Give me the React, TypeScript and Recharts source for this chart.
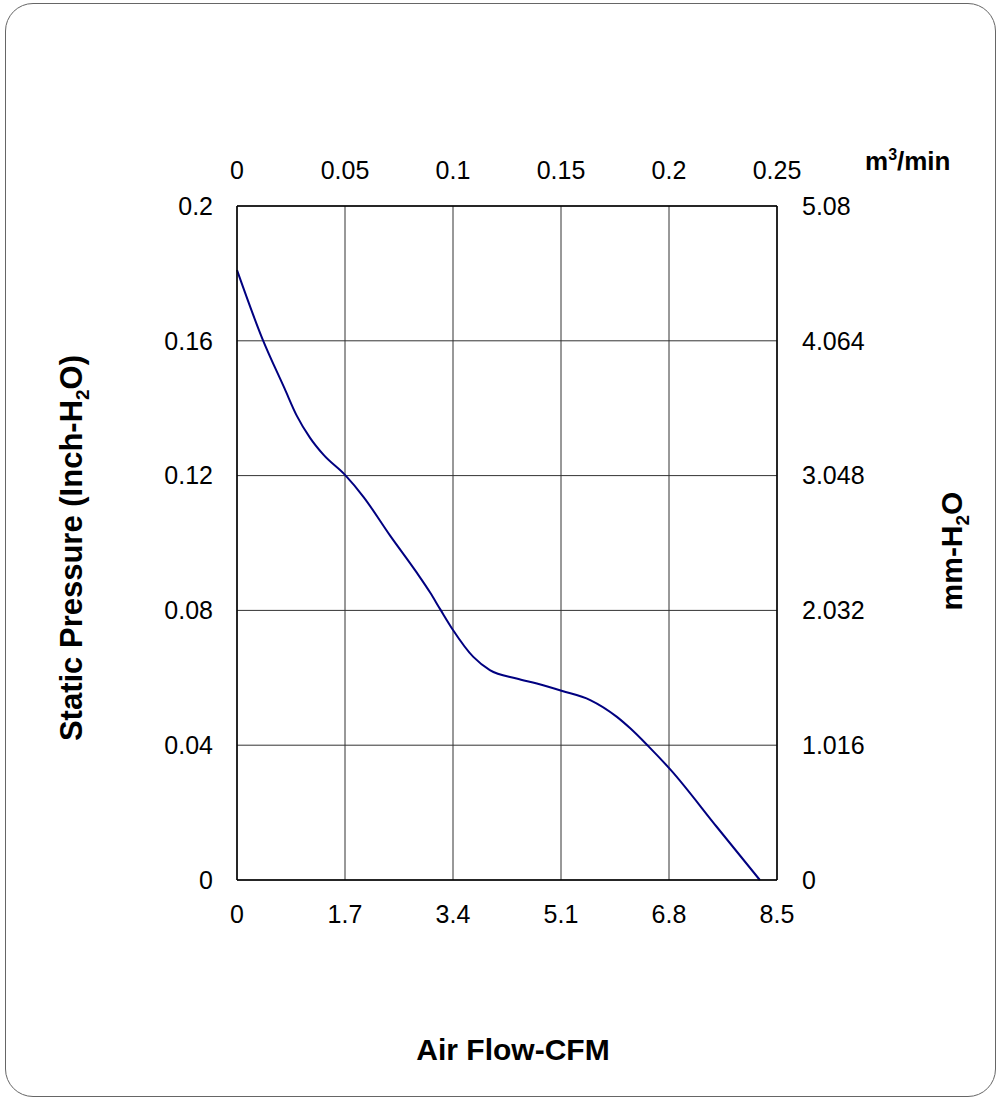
import React from 'react';
import { LineChart, Line, XAxis, YAxis, CartesianGrid } from 'recharts';

// airflow (CFM) vs static pressure (inch-H2O)
const airFlowCfm = [0, 0.4, 0.75, 0.94, 1.15, 1.36, 1.7, 1.99, 2.41, 2.83, 3.04, 3.2, 3.4, 3.72, 3.98, 4.4, 4.72, 5.12, 5.56, 5.98, 6.19, 6.47, 6.83, 7.55, 8.23];
const pressureInch = [0.181, 0.1606, 0.1458, 0.1378, 0.1312, 0.1262, 0.1202, 0.1137, 0.1022, 0.0912, 0.0853, 0.0803, 0.0742, 0.0662, 0.0623, 0.0598, 0.0583, 0.0561, 0.0534, 0.0484, 0.045, 0.0398, 0.0326, 0.0158, 0];

const cfmTicks = [0, 1.7, 3.4, 5.1, 6.8, 8.5];
const m3TickLabels = ['0', '0.05', '0.1', '0.15', '0.2', '0.25'];
const inchTicks = [0, 0.04, 0.08, 0.12, 0.16, 0.2];
const mmTicks = [0, 1.016, 2.032, 3.048, 4.064, 5.08];

const data = airFlowCfm.map((cfm, i) => ({ cfm, p: pressureInch[i] }));

const FONT = '"Liberation Sans", Arial, sans-serif';
const tickStyle = { fill: '#000', fontSize: 25, fontFamily: FONT };
const axisLine = { stroke: '#000', strokeWidth: 1.5 };

export default function App() {
    return (
        <div style={{ position: 'absolute', left: 0, top: 0, width: 1000, height: 1099, background: '#fff' }}>
            <div
                style={{
                    position: 'absolute',
                    left: 5,
                    top: 3,
                    width: 989,
                    height: 1092,
                    border: '1px solid #666',
                    borderRadius: 28,
                }}
            />
            <LineChart
                width={1000}
                height={1099}
                data={data}
                margin={{ top: 166, right: 163, bottom: 179, left: 177 }}
            >
                <CartesianGrid xAxisId="cfm" yAxisId="inch" stroke="#333" strokeWidth={1} />
                <XAxis
                    xAxisId="cfm"
                    dataKey="cfm"
                    type="number"
                    orientation="bottom"
                    domain={[0, 8.5]}
                    ticks={cfmTicks}
                    height={40}
                    tickSize={0}
                    tickMargin={25}
                    tick={tickStyle}
                    axisLine={axisLine}
                />
                <XAxis
                    xAxisId="m3"
                    dataKey="cfm"
                    type="number"
                    orientation="top"
                    domain={[0, 8.5]}
                    ticks={cfmTicks}
                    tickFormatter={(_v: number, i: number) => m3TickLabels[i]}
                    height={40}
                    tickSize={0}
                    tickMargin={27}
                    tick={tickStyle}
                    axisLine={axisLine}
                />
                <YAxis
                    yAxisId="inch"
                    type="number"
                    orientation="left"
                    domain={[0, 0.2]}
                    ticks={inchTicks}
                    width={60}
                    tickSize={0}
                    tickMargin={24}
                    tick={tickStyle}
                    axisLine={axisLine}
                />
                <YAxis
                    yAxisId="mm"
                    type="number"
                    orientation="right"
                    domain={[0, 5.08]}
                    ticks={mmTicks}
                    width={60}
                    tickSize={0}
                    tickMargin={25}
                    tick={tickStyle}
                    axisLine={axisLine}
                />
                {/* invisible series so the top and right axes get drawn */}
                <Line
                    xAxisId="m3"
                    yAxisId="mm"
                    dataKey="p"
                    stroke="none"
                    dot={false}
                    activeDot={false}
                    isAnimationActive={false}
                />
                <Line
                    xAxisId="cfm"
                    yAxisId="inch"
                    type="monotone"
                    dataKey="p"
                    stroke="#000080"
                    strokeWidth={2}
                    dot={false}
                    isAnimationActive={false}
                />
            </LineChart>
            <svg
                width={1000}
                height={1099}
                style={{ position: 'absolute', left: 0, top: 0, pointerEvents: 'none' }}
                fontFamily={FONT}
                fontWeight="bold"
            >
                <text transform="translate(82,548) rotate(-90)" textAnchor="middle" fontSize={31} fill="#000">
                    Static Pressure (Inch-H<tspan fontSize={19} dy={7}>2</tspan>
                    <tspan dy={-7}>O)</tspan>
                </text>
                <text transform="translate(962,551) rotate(-90)" textAnchor="middle" fontSize={30} fill="#000">
                    mm-H<tspan fontSize={19} dy={7}>2</tspan>
                    <tspan dy={-7}>O</tspan>
                </text>
                <text x={513} y={1060} textAnchor="middle" fontSize={30} fill="#000">
                    Air Flow-CFM
                </text>
                <text x={865} y={170} fontSize={26} fill="#000">
                    m<tspan fontSize={16} dy={-10}>3</tspan>
                    <tspan dy={10}>/min</tspan>
                </text>
            </svg>
        </div>
    );
}
